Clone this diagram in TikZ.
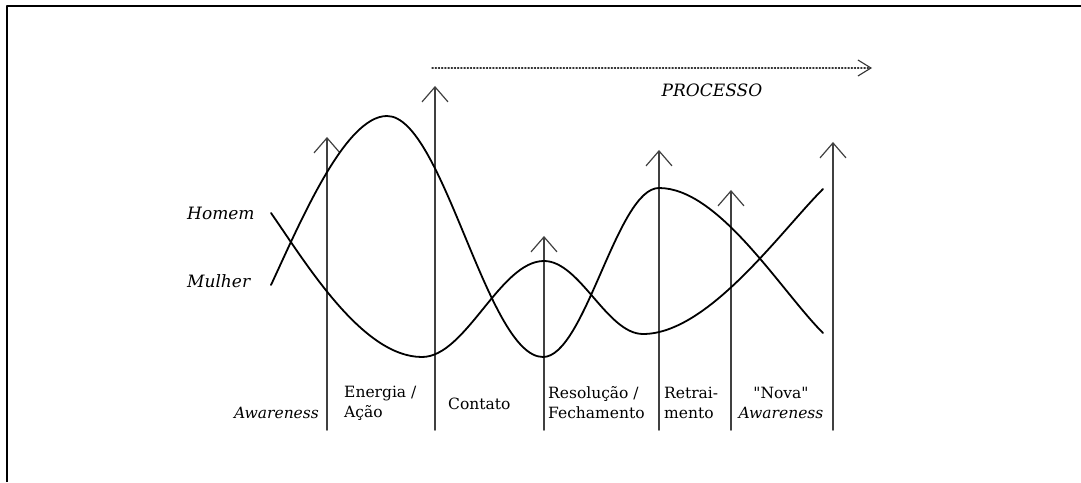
\documentclass[tikz,border=0pt]{standalone}
\usepackage{fontspec}
\setmainfont{DejaVu Serif}
\usetikzlibrary{arrows.meta}
\begin{document}
\begin{tikzpicture}[x=1pt,y=1pt,line join=round,line cap=round,
  font=\fontsize{15.5}{20}\selectfont,
  etapa/.style={draw=black!75,line width=1.6pt,-{Straight Barb[length=15pt,width=26pt,line width=1.2pt]}},
  curva/.style={line width=1.8pt},
  rotulo/.style={inner sep=0pt,align=left}]
\useasboundingbox (0,0) rectangle (1081,482);
% moldura
\draw[line width=2.6pt,line cap=butt] (7,0)--(7,476)--(1081,476);
% setas das etapas
\foreach \n/\x/\t in {a/327/345, b/435/396, c/544/246, d/659/332, e/731/292, f/833/340}{
  \coordinate (\n0) at (\x,52);
  \coordinate (\n1) at (\x,\t);
  \draw[etapa] (\n0)--(\n1);
}
% processo
\coordinate (p0) at (432,414);
\coordinate (p1) at (872,414);
\draw[draw=black!80,line width=1.2pt,dotted,-{Straight Barb[length=13pt,width=16pt,line width=1.1pt]}] (p0)--(p1);
\node[rotulo,font=\fontsize{17}{20}\selectfont\itshape] (processo) at (712,392) {PROCESSO};
% curvas
\coordinate (h0) at (271,269); \coordinate (h1) at (422,125);
\coordinate (h2) at (544,221); \coordinate (h3) at (643,148);
\coordinate (h4) at (823,293);
\coordinate (m0) at (271,197); \coordinate (m1) at (387,366);
\coordinate (m2) at (543,125); \coordinate (m3) at (659,294);
\coordinate (m4) at (823,149);
\draw[curva] (h0) .. controls +(-55:60) and +(-60,0) .. (h1)
  .. controls +(44,0) and +(-44,0) .. (h2)
  .. controls +(36,0) and +(-36,0) .. (h3)
  .. controls +(65,0) and +(225:60) .. (h4);
\draw[curva] (m0) .. controls +(65:70) and +(-42,0) .. (m1)
  .. controls +(56,0) and +(-56,0) .. (m2)
  .. controls +(42,0) and +(-42,0) .. (m3)
  .. controls +(60,0) and +(135:60) .. (m4);
\node[rotulo,anchor=west,font=\fontsize{17}{20}\selectfont\itshape] (homem) at (187,269) {Homem};
\node[rotulo,anchor=west,font=\fontsize{17}{20}\selectfont\itshape] (mulher) at (187,201) {Mulher};
% etapas
\node[rotulo,anchor=east] (aware) at (319,69) {\itshape Awareness};
\node[rotulo,anchor=west] (energia) at (344,79) {Energia /\\Ação};
\node[rotulo,anchor=west] (contato) at (448,78) {Contato};
\node[rotulo,anchor=west] (resol) at (548,79) {Resolução /\\Fechamento};
\node[rotulo,anchor=west] (retrai) at (664,79) {Retrai-\\mento};
\node[rotulo,align=center] (nova) at (781,79) {\textquotedbl Nova\textquotedbl\\\itshape Awareness};
\end{tikzpicture}
\end{document}
